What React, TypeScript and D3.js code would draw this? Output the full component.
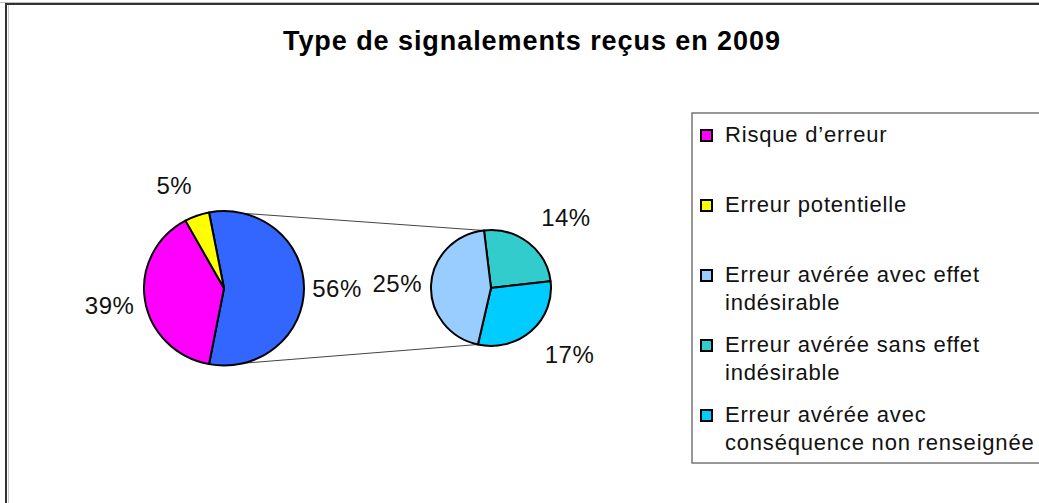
import React from "react";
import * as d3 from "d3";

const title = "Type de signalements reçus en 2009";
const mainCategories = ["Erreur avérée", "Risque d’erreur", "Erreur potentielle"];
const mainValues = [56, 39, 5];
const mainColors = ["#3366FF", "#FF00FF", "#FFFF00"];
const subCategories = ["Erreur avérée sans effet indésirable", "Erreur avérée avec conséquence non renseignée", "Erreur avérée avec effet indésirable"];
const subValues = [14, 17, 25];
const subColors = ["#33CCCC", "#00CCFF", "#99CCFF"];
const legendLabels = [
  ["Risque d’erreur"],
  ["Erreur potentielle"],
  ["Erreur avérée avec effet", "indésirable"],
  ["Erreur avérée sans effet", "indésirable"],
  ["Erreur avérée avec", "conséquence non renseignée"],
];
const legendColors = ["#FF00FF", "#FFFF00", "#99CCFF", "#33CCCC", "#00CCFF"];

const W = 1039, H = 503;
const FONT = "'Liberation Sans', Arial, sans-serif";
const deg = Math.PI / 180;
const SY = 0.965; // vertical squash of the pies

const main = { cx: 224, cy: 288.3, r: 80 };
const sub = { cx: 491, cy: 288, r: 60 };

function labelPos(cx: number, cy: number, r: number, a: number, w: number, h: number) {
  const s = Math.sin(a), c = Math.cos(a);
  const g = 8 + 16 * Math.abs(c);
  const px = cx + (r + g) * s;
  const py = cy - (r + g) * c * SY;
  const f = (v: number) => Math.max(-1, Math.min(1, v * 2.5));
  return { x: px + (w / 2) * f(s), y: py - (h / 2) * f(c) };
}

export default function App() {
  const mainTotal = d3.sum(mainValues);
  const otherAngle = (mainValues[0] / mainTotal) * 2 * Math.PI;
  const mainStart = Math.PI / 2 - otherAngle / 2;
  const mainArcs = d3.pie<number>().sort(null).startAngle(mainStart).endAngle(mainStart + 2 * Math.PI)(mainValues);
  const subStart = -6.7 * deg;
  const subArcs = d3.pie<number>().sort(null).startAngle(subStart).endAngle(subStart + 2 * Math.PI)(subValues);
  const mainArc = d3.arc<d3.PieArcDatum<number>>().innerRadius(0).outerRadius(main.r);
  const subArc = d3.arc<d3.PieArcDatum<number>>().innerRadius(0).outerRadius(sub.r);

  const fs = 24;
  const lblW = (t: string) => t.length === 2 ? 35 : 50;
  const lblH = 18;

  // connector lines
  const mTop = 13.7 * deg, mBot = 166 * deg;
  const sTop = subArcs[subArcs.length - 1].endAngle;
  const sBot = subArcs[subArcs.length - 1].startAngle;
  const pt = (c: { cx: number; cy: number; r: number }, a: number) => [c.cx + c.r * Math.sin(a), c.cy - c.r * Math.cos(a) * SY];
  const l1 = [pt(main, mTop), pt(sub, sTop)];
  const l2 = [pt(main, mBot), pt(sub, sBot)];

  return (
    <svg width={W} height={H} style={{ position: "absolute", left: 0, top: 0, background: "#fff" }} fontFamily={FONT}>
      <rect x={0} y={0} width={W} height={H} fill="#fff" />
      <line x1={0} x2={W} y1={2.5} y2={2.5} stroke="#bbb" strokeWidth={1} />
      <rect x={6} y={4} width={W + 20} height={H + 20} fill="none" stroke="#333" strokeWidth={2} />
      <line x1={8.5} x2={8.5} y1={5} y2={H} stroke="#ccc" strokeWidth={1} />

      <text x={283} y={50} fontSize={27} fontWeight="bold" textLength={497} lengthAdjust="spacing" fill="#000">{title}</text>

      <line x1={l1[0][0]} y1={l1[0][1]} x2={l1[1][0]} y2={l1[1][1]} stroke="#444" strokeWidth={1} />
      <line x1={l2[0][0]} y1={l2[0][1]} x2={l2[1][0]} y2={l2[1][1]} stroke="#444" strokeWidth={1} />

      <g transform={`translate(${main.cx},${main.cy}) scale(1,${SY})`}>
        {mainArcs.map((d, i) => (
          <path key={mainCategories[i]} d={mainArc(d) || ""} fill={mainColors[i]} stroke="#000" strokeWidth={2} strokeLinejoin="round" />
        ))}
      </g>
      <g transform={`translate(${sub.cx},${sub.cy}) scale(1,${SY})`}>
        {subArcs.map((d, i) => (
          <path key={subCategories[i]} d={subArc(d) || ""} fill={subColors[i]} stroke="#000" strokeWidth={2} strokeLinejoin="round" />
        ))}
      </g>

      {mainArcs.map((d, i) => {
        const t = `${mainValues[i]}%`;
        const p = labelPos(main.cx, main.cy, main.r, (d.startAngle + d.endAngle) / 2, lblW(t), lblH);
        return <text key={"ml" + i} x={p.x} y={p.y + 8.5} textAnchor="middle" fontSize={fs} letterSpacing={0.5} fill="#111">{t}</text>;
      })}
      {subArcs.map((d, i) => {
        const t = `${subValues[i]}%`;
        const p = labelPos(sub.cx, sub.cy, sub.r, (d.startAngle + d.endAngle) / 2, lblW(t), lblH);
        return <text key={"sl" + i} x={p.x} y={p.y + 8.5} textAnchor="middle" fontSize={fs} letterSpacing={0.5} fill="#111">{t}</text>;
      })}

      <rect x={692} y={113} width={W} height={350} fill="#fff" stroke="#777" strokeWidth={1.5} />
      {legendLabels.map((lines, i) => {
        const base = 141.5 + i * 70;
        return (
          <g key={"lg" + i}>
            <rect x={701} y={base - 11.5} width={11} height={11} fill={legendColors[i]} stroke="#000" strokeWidth={2} />
            {lines.map((ln, j) => (
              <text key={j} x={725} y={base + j * 28.5} fontSize={22} letterSpacing={0.8} fill="#111">{ln}</text>
            ))}
          </g>
        );
      })}
    </svg>
  );
}
